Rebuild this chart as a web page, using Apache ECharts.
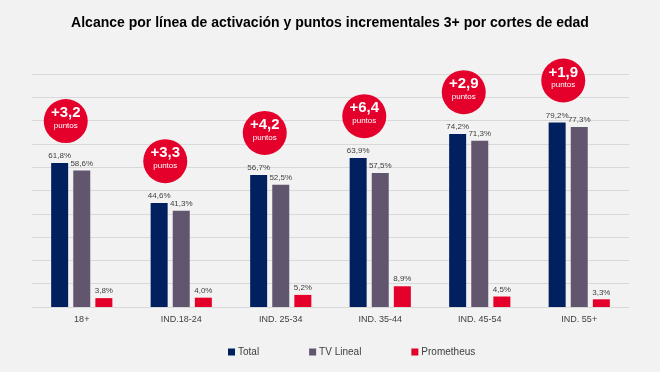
<!DOCTYPE html>
<html>
<head>
<meta charset="utf-8">
<script src="https://cdn.jsdelivr.net/npm/echarts@6/dist/echarts.min.js"></script>
<style>
html,body{margin:0;padding:0;background:#f2f2f2;}
#chart{width:660px;height:372px;}
</style>
</head>
<body>
<div id="chart"></div>
<script>
const categories = ['18+', 'IND.18-24', 'IND. 25-34', 'IND. 35-44', 'IND. 45-54', 'IND. 55+'];
const totalValues = [61.8, 44.6, 56.7, 63.9, 74.2, 79.2];
const tvLinealValues = [58.6, 41.3, 52.5, 57.5, 71.3, 77.3];
const prometheusValues = [3.8, 4.0, 5.2, 8.9, 4.5, 3.3];
const incrementalPoints = ['+3,2', '+3,3', '+4,2', '+6,4', '+2,9', '+1,9'];
const yTicks = [0, 10, 20, 30, 40, 50, 60, 70, 80, 90, 100];

const BUBBLE_ABOVE = 18;
const fmt = v => v.toFixed(1).replace('.', ',') + '%';
const FONT = '"Liberation Sans", Arial, sans-serif';

const barLabel = {
  show: true, position: 'top', distance: 3,
  fontSize: 8, color: '#404040', fontFamily: FONT,
  formatter: p => fmt(p.value)
};

const chart = echarts.init(document.getElementById('chart'), null, {renderer: 'canvas'});
chart.setOption({
  backgroundColor: '#f2f2f2',
  animation: false,
  title: {
    text: 'Alcance por línea de activación y puntos incrementales 3+ por cortes de edad',
    left: 'center', top: 11,
    textStyle: {fontSize: 14, fontWeight: 'bold', color: '#000', fontFamily: FONT}
  },
  legend: {
    data: ['Total', 'TV Lineal', 'Prometheus'],
    left: 223, top: 342,
    itemWidth: 7, itemHeight: 7, itemGap: 50,
    icon: 'rect',
    textStyle: {fontSize: 10, color: '#404040', fontFamily: FONT, padding: [0, 0, 0, -2]}
  },
  grid: {left: 32, right: 31, top: 74, bottom: 65, containLabel: false},
  xAxis: {
    type: 'category', data: categories,
    axisLine: {lineStyle: {color: '#d9d9d9', width: 1}},
    axisTick: {show: false},
    axisLabel: {fontSize: 9, color: '#404040', fontFamily: FONT, margin: 8}
  },
  yAxis: {
    type: 'value', min: yTicks[0], max: yTicks[yTicks.length - 1], interval: 10,
    axisLabel: {show: false}, axisLine: {show: false}, axisTick: {show: false},
    splitLine: {lineStyle: {color: '#d9d9d9', width: 1}}
  },
  series: [
    {name: 'Total', type: 'bar', data: totalValues, barWidth: 17, barGap: '30%',
     itemStyle: {color: '#002060'}, label: barLabel},
    {name: 'TV Lineal', type: 'bar', data: tvLinealValues, barWidth: 17, barGap: '30%',
     itemStyle: {color: '#62566e'}, label: barLabel},
    {name: 'Prometheus', type: 'bar', data: prometheusValues, barWidth: 17, barGap: '30%',
     itemStyle: {color: '#e4002b'}, label: barLabel},
    {name: 'bubbles', type: 'scatter', z: 5,
     data: totalValues.map((v, i) => ({value: [i, v + BUBBLE_ABOVE], txt: incrementalPoints[i]})),
     symbol: 'circle', symbolSize: 44, symbolOffset: [-16, 0],
     itemStyle: {color: '#e4002b', opacity: 1},
     label: {
       show: true, position: 'inside', offset: [0, -3],
       formatter: p => '{a|' + p.data.txt + '}\n{b|puntos}',
       rich: {
         a: {fontSize: 15, fontWeight: 'bold', color: '#fff', fontFamily: '"Liberation Sans Narrow", "Liberation Sans", Arial', lineHeight: 15, align: 'center'},
         b: {fontSize: 8, color: '#fff', fontFamily: FONT, lineHeight: 10, align: 'center'}
       }
     }}
  ]
});
</script>
</body>
</html>
